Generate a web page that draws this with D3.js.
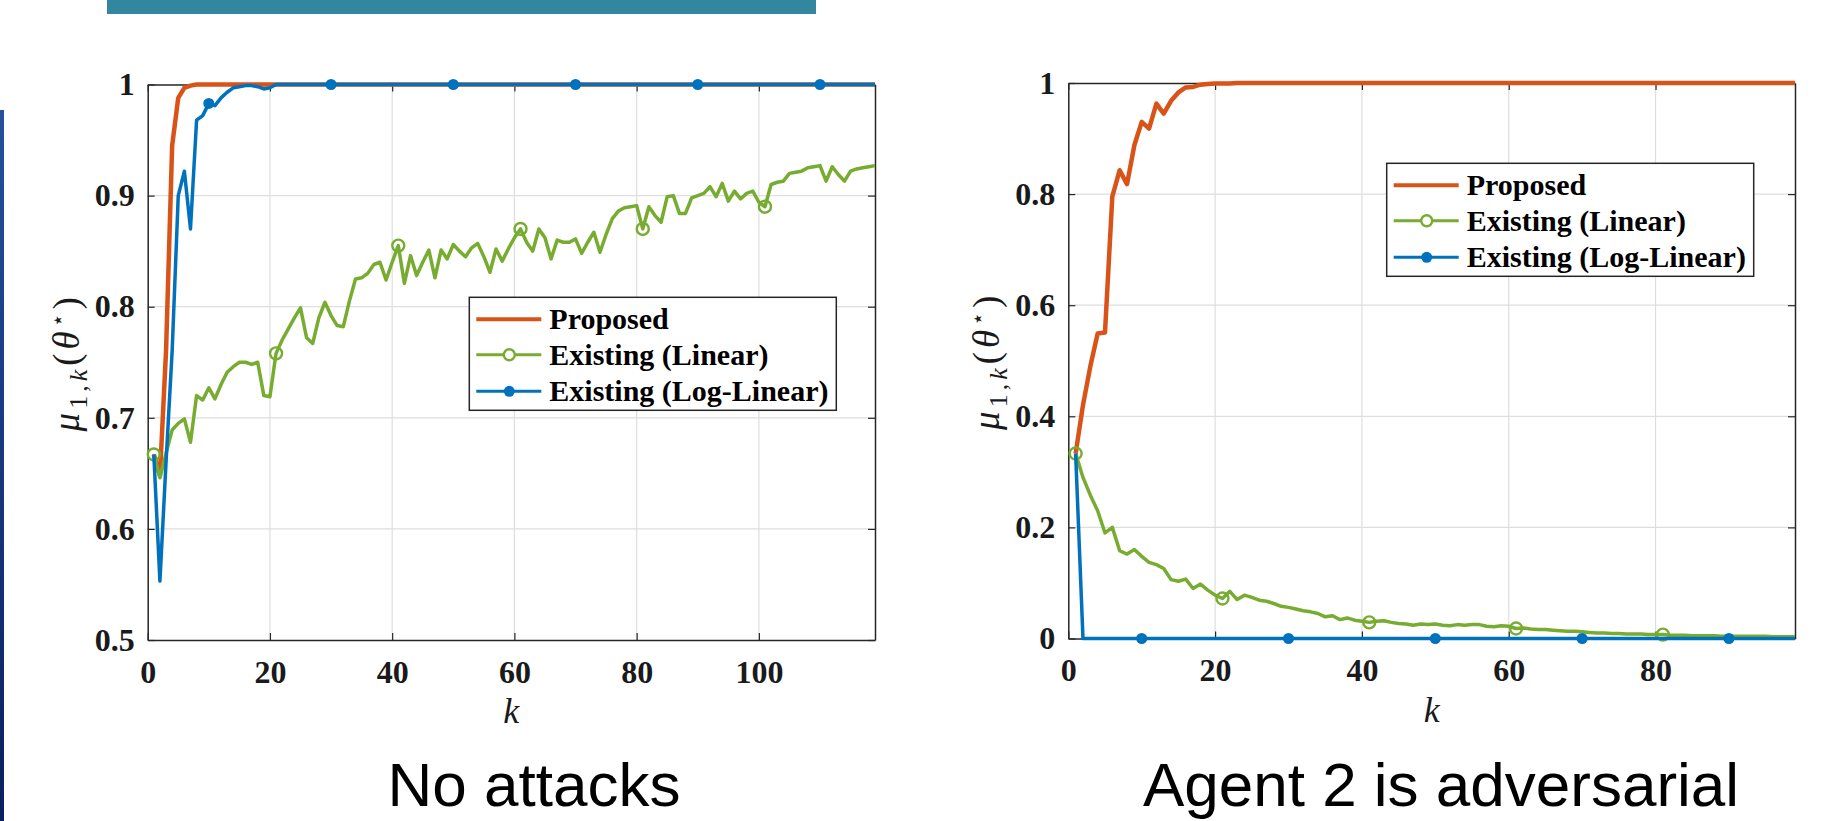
<!DOCTYPE html>
<html>
<head>
<meta charset="utf-8">
<script src="https://cdn.jsdelivr.net/npm/d3@7"></script>
<style>
  html, body { margin: 0; padding: 0; background: #ffffff; }
  svg { display: block; }
</style>
</head>
<body>
<svg id="chart" width="1832" height="821"></svg>
<script>
// ---------------- DATA ----------------
const seriesNames = ["Proposed", "Existing (Linear)", "Existing (Log-Linear)"];
const seriesColors = ["#D95319", "#77AC30", "#0072BD"];

// Left panel: "No attacks", k = 1..119
const leftXTicks = [0, 20, 40, 60, 80, 100];
const leftYTicks = [0.5, 0.6, 0.7, 0.8, 0.9, 1];
const leftYTickLabels = ["0.5", "0.6", "0.7", "0.8", "0.9", "1"];
const leftProposed = [
  0.667,0.648,0.760,0.945,0.988,0.997,0.999,1,1,1,
  1,1,1,1,1,1,1,1,1,1,
  1,1,1,1,1,1,1,1,1,1,
  1,1,1,1,1,1,1,1,1,1,
  1,1,1,1,1,1,1,1,1,1,
  1,1,1,1,1,1,1,1,1,1,
  1,1,1,1,1,1,1,1,1,1,
  1,1,1,1,1,1,1,1,1,1,
  1,1,1,1,1,1,1,1,1,1,
  1,1,1,1,1,1,1,1,1,1,
  1,1,1,1,1,1,1,1,1,1,
  1,1,1,1,1,1,1,1,1
];
const leftLinear = [
  0.667,0.646,0.668,0.689,0.695,0.699,0.678,0.720,0.716,0.727,
  0.717,0.730,0.741,0.746,0.750,0.750,0.748,0.750,0.720,0.719,
  0.758,0.770,0.780,0.790,0.799,0.772,0.767,0.790,0.804,0.792,
  0.783,0.782,0.805,0.825,0.826,0.830,0.838,0.840,0.824,0.840,
  0.855,0.821,0.846,0.828,0.840,0.851,0.826,0.851,0.843,0.856,
  0.850,0.845,0.853,0.857,0.845,0.831,0.852,0.841,0.852,0.862,
  0.870,0.858,0.850,0.870,0.862,0.843,0.860,0.858,0.858,0.861,
  0.848,0.858,0.867,0.849,0.865,0.879,0.886,0.889,0.890,0.891,
  0.870,0.890,0.882,0.876,0.899,0.900,0.884,0.884,0.898,0.900,
  0.902,0.908,0.899,0.911,0.895,0.904,0.897,0.902,0.904,0.894,
  0.890,0.910,0.912,0.913,0.920,0.921,0.922,0.925,0.926,0.927,
  0.913,0.926,0.919,0.913,0.922,0.924,0.925,0.926,0.927
];
const leftLogLinear = [
  0.667,0.553,0.660,0.760,0.900,0.922,0.870,0.968,0.972,0.983,
  0.981,0.988,0.993,0.997,0.998,0.999,0.999,0.998,0.996,0.997,
  1,1,1,1,1,1,1,1,1,1,
  1,1,1,1,1,1,1,1,1,1,
  1,1,1,1,1,1,1,1,1,1,
  1,1,1,1,1,1,1,1,1,1,
  1,1,1,1,1,1,1,1,1,1,
  1,1,1,1,1,1,1,1,1,1,
  1,1,1,1,1,1,1,1,1,1,
  1,1,1,1,1,1,1,1,1,1,
  1,1,1,1,1,1,1,1,1,1,
  1,1,1,1,1,1,1,1,1
];
const leftLinearMarkerK = [1, 21, 41, 61, 81, 101];
const leftLogMarkerK = [10, 30, 50, 70, 90, 110];

// Right panel: "Agent 2 is adversarial", k = 1..99
const rightXTicks = [0, 20, 40, 60, 80];
const rightYTicks = [0, 0.2, 0.4, 0.6, 0.8, 1];
const rightYTickLabels = ["0", "0.2", "0.4", "0.6", "0.8", "1"];
const rightProposed = [
  0.333,0.420,0.490,0.549,0.551,0.796,0.843,0.818,0.888,0.930,
  0.918,0.963,0.945,0.968,0.983,0.992,0.993,0.997,0.998,0.999,
  0.999,0.999,1,1,1,1,1,1,1,1,
  1,1,1,1,1,1,1,1,1,1,
  1,1,1,1,1,1,1,1,1,1,
  1,1,1,1,1,1,1,1,1,1,
  1,1,1,1,1,1,1,1,1,1,
  1,1,1,1,1,1,1,1,1,1,
  1,1,1,1,1,1,1,1,1,1,
  1,1,1,1,1,1,1,1,1
];
const rightLinear = [
  0.333,0.290,0.258,0.230,0.190,0.200,0.158,0.152,0.160,0.148,
  0.137,0.133,0.126,0.106,0.103,0.107,0.090,0.098,0.087,0.078,
  0.072,0.085,0.070,0.078,0.074,0.069,0.067,0.063,0.058,0.056,
  0.053,0.050,0.048,0.045,0.039,0.041,0.034,0.037,0.033,0.031,
  0.029,0.031,0.032,0.029,0.027,0.026,0.024,0.026,0.025,0.026,
  0.024,0.023,0.025,0.024,0.025,0.025,0.022,0.021,0.023,0.022,
  0.018,0.019,0.017,0.016,0.016,0.015,0.014,0.013,0.013,0.012,
  0.011,0.010,0.010,0.009,0.009,0.008,0.008,0.008,0.007,0.007,
  0.007,0.006,0.006,0.006,0.005,0.005,0.005,0.005,0.004,0.004,
  0.004,0.004,0.004,0.004,0.004,0.003,0.003,0.003,0.003
];
const rightLogLinear = [
  0.333,0,0,0,0,0,0,0,0,0,
  0,0,0,0,0,0,0,0,0,0,
  0,0,0,0,0,0,0,0,0,0,
  0,0,0,0,0,0,0,0,0,0,
  0,0,0,0,0,0,0,0,0,0,
  0,0,0,0,0,0,0,0,0,0,
  0,0,0,0,0,0,0,0,0,0,
  0,0,0,0,0,0,0,0,0,0,
  0,0,0,0,0,0,0,0,0,0,
  0,0,0,0,0,0,0,0,0
];
const rightLinearMarkerK = [1, 21, 41, 61, 81];
const rightLogMarkerK = [10, 30, 50, 70, 90];

const captions = ["No attacks", "Agent 2 is adversarial"];

// ---------------- DRAWING ----------------
const svg = d3.select("#chart");
const AX = "#262626";
const SERIF = "'Liberation Serif', 'Times New Roman', serif";

// decorative slide elements
const grad = svg.append("defs").append("linearGradient")
  .attr("id", "sidebar").attr("x1", 0).attr("y1", 0).attr("x2", 0).attr("y2", 1);
grad.append("stop").attr("offset", "0%").attr("stop-color", "#24509f");
grad.append("stop").attr("offset", "100%").attr("stop-color", "#0a1f5e");
svg.append("rect").attr("x", 0).attr("y", 110).attr("width", 4).attr("height", 711)
  .attr("fill", "url(#sidebar)");
svg.append("rect").attr("x", 107).attr("y", 0).attr("width", 709).attr("height", 14)
  .attr("fill", "#3286A0");

function drawPanel(cfg) {
  const x = d3.scaleLinear().domain(cfg.xDomain).range([cfg.left, cfg.right]);
  const y = d3.scaleLinear().domain(cfg.yDomain).range([cfg.bottom, cfg.top]);
  const g = svg.append("g");

  // grid
  g.append("g").selectAll("line").data(cfg.xTicks.filter(t => t > cfg.xDomain[0] && t < cfg.xDomain[1]))
    .join("line").attr("x1", d => x(d)).attr("x2", d => x(d))
    .attr("y1", cfg.top).attr("y2", cfg.bottom)
    .attr("stroke", "#dedede").attr("stroke-width", 1.2);
  g.append("g").selectAll("line").data(cfg.yTicks.filter(t => t > cfg.yDomain[0] && t < cfg.yDomain[1]))
    .join("line").attr("y1", d => y(d)).attr("y2", d => y(d))
    .attr("x1", cfg.left).attr("x2", cfg.right)
    .attr("stroke", "#dedede").attr("stroke-width", 1.2);

  // axes (box with inward ticks)
  const styleAxis = sel => {
    sel.select(".domain").attr("stroke", AX).attr("stroke-width", 1.5);
    sel.selectAll(".tick line").attr("stroke", AX).attr("stroke-width", 1.2);
    sel.selectAll("text").attr("font-family", SERIF).attr("font-weight", "bold")
      .attr("font-size", 32).attr("fill", "#1a1a1a");
  };
  g.append("g").attr("transform", `translate(0,${cfg.bottom})`)
    .call(d3.axisBottom(x).tickValues(cfg.xTicks).tickSize(-7).tickSizeOuter(0).tickPadding(20).tickFormat(d3.format("d")))
    .call(styleAxis);
  g.append("g").attr("transform", `translate(0,${cfg.top})`)
    .call(d3.axisTop(x).tickValues(cfg.xTicks).tickSize(-7).tickSizeOuter(0).tickFormat(""))
    .call(styleAxis);
  g.append("g").attr("transform", `translate(${cfg.left},0)`)
    .call(d3.axisLeft(y).tickValues(cfg.yTicks).tickSize(-7).tickSizeOuter(0).tickPadding(13)
      .tickFormat((d, i) => cfg.yTickLabels[i]))
    .call(styleAxis);
  g.append("g").attr("transform", `translate(${cfg.right},0)`)
    .call(d3.axisRight(y).tickValues(cfg.yTicks).tickSize(-7).tickSizeOuter(0).tickFormat(""))
    .call(styleAxis);

  // lines
  const line = d3.line().x((d, i) => x(i + 1)).y(d => y(d));
  const widths = [4.5, 3.5, 3.5];
  cfg.series.forEach((vals, si) => {
    g.append("path").datum(vals).attr("d", line)
      .attr("fill", "none").attr("stroke", seriesColors[si])
      .attr("stroke-width", widths[si]).attr("stroke-linejoin", "round");
    if (si === 1) {
      g.append("g").selectAll("circle").data(cfg.linMarkers).join("circle")
        .attr("cx", k => x(k)).attr("cy", k => y(vals[k - 1])).attr("r", 6)
        .attr("fill", "none").attr("stroke", seriesColors[1]).attr("stroke-width", 2.4);
    }
    if (si === 2) {
      g.append("g").selectAll("circle").data(cfg.logMarkers).join("circle")
        .attr("cx", k => x(k)).attr("cy", k => y(vals[k - 1])).attr("r", 5.5)
        .attr("fill", seriesColors[2]);
    }
  });

  // axis labels
  g.append("text").attr("x", (cfg.left + cfg.right) / 2).attr("y", cfg.bottom + 83)
    .attr("text-anchor", "middle").attr("font-family", SERIF).attr("font-style", "italic")
    .attr("font-size", 36).attr("fill", "#1a1a1a").text("k");

  const yl = g.append("text")
    .attr("transform", `translate(${cfg.left - 69},${(cfg.top + cfg.bottom) / 2}) rotate(-90)`)
    .attr("text-anchor", "middle").attr("font-family", SERIF).attr("font-size", 37)
    .attr("letter-spacing", 4).attr("fill", "#1a1a1a");
  yl.append("tspan").attr("font-style", "italic").text("μ");
  yl.append("tspan").attr("font-size", 26).attr("dy", 8).text("1,");
  yl.append("tspan").attr("font-size", 26).attr("font-style", "italic").text("k");
  yl.append("tspan").attr("dy", -8).text("(");
  yl.append("tspan").attr("font-style", "italic").text("θ");
  yl.append("tspan").attr("font-size", 22).attr("dy", -14).attr("font-family", "'DejaVu Sans', sans-serif").text("⋆");
  yl.append("tspan").attr("dy", 14).text(")");

  // legend
  const L = g.append("g").attr("transform", `translate(${cfg.legendX},${cfg.legendY})`);
  L.append("rect").attr("width", 367).attr("height", 113)
    .attr("fill", "#ffffff").attr("stroke", AX).attr("stroke-width", 1.5);
  const rowY = [22, 57.5, 94];
  seriesNames.forEach((name, i) => {
    L.append("line").attr("x1", 7).attr("x2", 72).attr("y1", rowY[i]).attr("y2", rowY[i])
      .attr("stroke", seriesColors[i]).attr("stroke-width", widths[i] - 0.5);
    if (i === 1) L.append("circle").attr("cx", 40).attr("cy", rowY[i]).attr("r", 5.5)
      .attr("fill", "#fff").attr("stroke", seriesColors[1]).attr("stroke-width", 2.4);
    if (i === 2) L.append("circle").attr("cx", 40).attr("cy", rowY[i]).attr("r", 5.5)
      .attr("fill", seriesColors[2]);
    L.append("text").attr("x", 80).attr("y", rowY[i] + 10)
      .attr("font-family", SERIF).attr("font-weight", "bold").attr("font-size", 30)
      .attr("fill", "#000").text(name);
  });

  // caption
  svg.append("text").attr("x", cfg.captionX).attr("y", 806).attr("text-anchor", "middle")
    .attr("font-family", "'Liberation Sans', Arial, sans-serif").attr("font-size", 62)
    .attr("fill", "#000").text(cfg.caption);
}

drawPanel({
  left: 147.7, right: 875, top: 84.5, bottom: 640,
  xDomain: [0, 119], yDomain: [0.5, 1],
  xTicks: leftXTicks, yTicks: leftYTicks, yTickLabels: leftYTickLabels,
  series: [leftProposed, leftLinear, leftLogLinear],
  linMarkers: leftLinearMarkerK, logMarkers: leftLogMarkerK,
  legendX: 469.3, legendY: 297.3,
  caption: captions[0], captionX: 534
});
drawPanel({
  left: 1068.3, right: 1795, top: 83, bottom: 638.5,
  xDomain: [0, 99], yDomain: [0, 1],
  xTicks: rightXTicks, yTicks: rightYTicks, yTickLabels: rightYTickLabels,
  series: [rightProposed, rightLinear, rightLogLinear],
  linMarkers: rightLinearMarkerK, logMarkers: rightLogMarkerK,
  legendX: 1386.7, legendY: 163.3,
  caption: captions[1], captionX: 1441
});
</script>
</body>
</html>
